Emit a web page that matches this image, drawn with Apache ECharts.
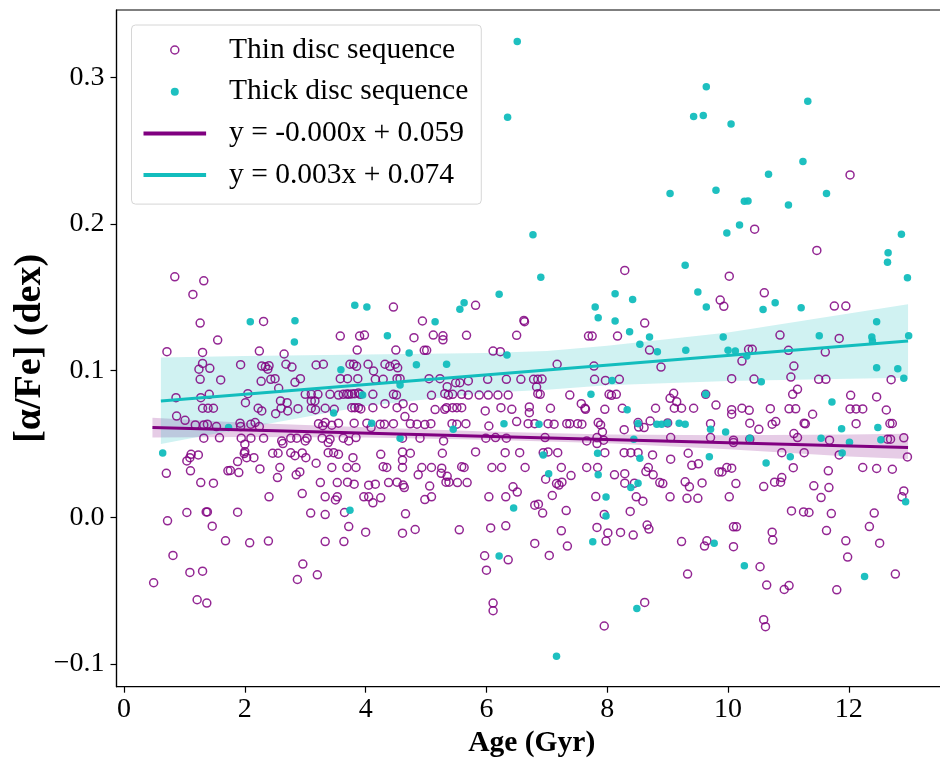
<!DOCTYPE html>
<html>
<head>
<meta charset="utf-8">
<script src="https://cdn.jsdelivr.net/npm/echarts@6/dist/echarts.min.js"></script>
<style>
html,body{margin:0;padding:0;background:#fff;overflow:hidden;}
#chart{width:952px;height:758px;}
</style>
</head>
<body>
<div id="chart"></div>
<script>
// ---- data ----
const xTicks = [0, 2, 4, 6, 8, 10, 12];
const yTicks = [-0.1, 0.0, 0.1, 0.2, 0.3];

const seriesNames = ['Thin disc sequence', 'Thick disc sequence', 'y = -0.000x + 0.059', 'y = 0.003x + 0.074'];

const thinPoints = [
[12.02,0.2335],[10.44,0.1965],[11.47,0.182],[10.6,0.1531],[11.76,0.1441],[11.95,0.1441],[10.86,0.1243],[11.84,0.122],[10.34,0.1146],[10.4,0.1146],[11.0,0.1139],[11.61,0.1127],[11.09,0.1032],[10.43,0.0943],[11.04,0.0957],[11.5,0.0941],[11.62,0.0941],[12.7,0.0939],[11.15,0.0873],[11.07,0.0839],[12.03,0.0832],[12.46,0.0821],[10.35,0.073],[10.7,0.0741],[11.01,0.074],[11.12,0.074],[12.02,0.0739],[12.12,0.0739],[12.23,0.0739],[12.62,0.0732],[11.4,0.0703],[10.36,0.0642],[10.73,0.0635],[10.79,0.0653],[11.26,0.0642],[11.28,0.0638],[12.12,0.0639],[12.68,0.064],[12.72,0.064],[10.51,0.06],[11.09,0.0571],[11.15,0.0544],[11.68,0.0526],[12.64,0.0533],[12.69,0.0533],[12.91,0.0542],[10.36,0.0533],[10.89,0.0441],[11.26,0.0441],[11.84,0.0426],[12.97,0.0412],[11.08,0.0339],[12.23,0.034],[12.46,0.0333],[12.72,0.0328],[11.66,0.0317],[10.89,0.0271],[10.59,0.021],[10.77,0.024],[10.87,0.024],[11.42,0.0215],[11.67,0.0203],[11.54,0.0135],[12.91,0.018],[12.88,0.014],[11.05,0.0044],[11.25,0.0037],[11.34,0.0033],[11.71,0.0026],[12.42,0.0029],[10.73,-0.0101],[10.74,-0.0155],[11.63,-0.009],[12.34,-0.0063],[11.95,-0.016],[12.51,-0.0176],[11.98,-0.0271],[10.53,-0.0337],[12.77,-0.0387],[10.64,-0.0462],[10.93,-0.0492],[11.01,-0.0465],[11.8,-0.0494],[10.59,-0.0698],[10.62,-0.0746],
[6.98,0.026],[7.16,0.023],[7.2,0.022],[7.25,0.024],[7.4,0.0285],[8.12,0.029],[8.29,0.0298],[8.64,0.0312],[8.76,0.029],[8.29,0.0233],[8.45,0.0233],[8.87,0.0237],[8.92,0.023],[9.29,0.0242],[9.36,0.0208],[9.57,0.0235],[10.13,0.023],[9.85,0.031],[9.9,0.031],[7.09,0.0149],[7.81,0.0142],[8.48,0.014],[8.59,0.011],[9.04,0.014],[9.32,0.013],[9.5,0.013],[10.02,0.014],[6.86,0.009],[6.8,0.0083],[6.93,0.0029],[7.32,0.0046],[7.95,0.002],[8.38,0.004],[7.24,-0.0092],[7.83,-0.0069],[8.01,-0.0106],[8.22,-0.0103],[8.43,-0.0121],[8.66,-0.0053],[8.69,-0.008],[10.09,-0.0065],[10.14,-0.0065],[7.98,-0.0162],[6.8,-0.0178],[7.34,-0.0196],[9.23,-0.0165],[9.65,-0.016],[9.61,-0.0196],[10.09,-0.02],[7.04,-0.026],[9.33,-0.0387],[8.62,-0.058],[7.95,-0.0741],
[3.53,0.0237],[3.7,0.024],[3.81,0.0226],[4.05,0.0219],[4.16,0.0226],[4.38,0.0237],[4.52,0.024],[4.62,0.022],[4.64,0.0203],[4.87,0.029],[5.06,0.0213],[5.33,0.024],[5.38,0.024],[5.52,0.0237],[5.68,0.0237],[5.25,0.03],[5.35,0.028],[3.33,0.014],[3.5,0.0119],[3.53,0.014],[3.97,0.014],[4.05,0.014],[4.12,0.0099],[4.25,0.0133],[4.98,0.0121],[5.09,0.014],[6.04,0.014],[6.32,0.014],[6.44,0.0208],[6.51,0.0172],[3.33,0.0019],[3.65,0.0033],[4.66,0.0024],[3.72,-0.0063],[4.0,-0.0101],[4.61,-0.0108],[4.82,-0.0083],[5.55,-0.0085],[6.07,-0.0072],[6.32,-0.0058],[3.33,-0.0165],[3.64,-0.0165],[5.97,-0.0262],[6.36,-0.029],[6.0,-0.036],[6.11,-0.0585],[6.11,-0.0637],
[0.7,0.030],[1.1,0.0317],[1.27,0.0237],[1.48,0.0233],[1.72,0.0317],[1.9,0.0305],[2.54,0.0271],[2.85,0.029],[2.91,0.031],[3.25,0.0237],[2.4,0.014],[2.95,0.0162],[1.04,0.0033],[1.36,0.0037],[1.38,0.0037],[1.88,0.0035],[0.72,-0.0024],[1.46,-0.006],[3.09,0.0029],[1.68,-0.016],[2.08,-0.0174],[2.39,-0.0162],[0.81,-0.026],[1.09,-0.0376],[1.3,-0.0367],[0.49,-0.0446],[2.96,-0.0319],[2.87,-0.0424],[3.2,-0.0392],[1.21,-0.0562],[1.37,-0.0585],
[0.84,0.164],[1.32,0.1613],[1.14,0.152],[1.26,0.1325],[2.31,0.1336],[1.55,0.1209],[0.71,0.113],[1.3,0.1125],[2.24,0.1134],[2.65,0.1114],[1.3,0.105],[1.24,0.101],[1.42,0.1016],[1.93,0.1041],[2.28,0.1032],[2.34,0.1027],[2.4,0.1034],[2.38,0.101],[2.68,0.1044],[2.78,0.1025],[3.18,0.1039],[3.3,0.1044],[1.26,0.0941],[1.6,0.0937],[2.27,0.0928],[2.43,0.0941],[2.5,0.0946],[2.83,0.0921],[2.92,0.0946],[2.05,0.0843],[2.01,0.0782],[2.56,0.088],[3.0,0.0839],[3.1,0.0839],[3.21,0.0839],[0.86,0.0816],[1.27,0.0816],[1.41,0.0839],[2.59,0.0794],[2.7,0.0782],[3.1,0.0794],[3.16,0.0794],[1.3,0.0744],[1.39,0.0744],[1.48,0.0744],[2.22,0.0744],[2.28,0.0726],[2.51,0.0707],[2.6,0.0744],[2.71,0.0726],[2.88,0.0741],[3.1,0.0744],[3.17,0.0734],[0.87,0.0691],[1.01,0.0662],[1.18,0.063],[1.32,0.063],[1.38,0.0635],[1.53,0.0619],[1.92,0.0642],[1.93,0.0619],[2.1,0.0635],[2.17,0.0646],[2.24,0.0619],[3.22,0.0639],[3.29,0.0625],[1.32,0.054],[1.58,0.0542],[1.94,0.054],[2.1,0.054],[2.31,0.054],[2.61,0.0521],[2.63,0.0503],[2.76,0.054],[2.86,0.054],[3.0,0.0521],[3.03,0.054],[3.28,0.054],[1.11,0.043],[1.23,0.0426],[1.04,0.0385],[1.09,0.0407],[2.0,0.0499],[2.0,0.0448],[1.99,0.0435],[2.03,0.0407],[2.15,0.0407],[2.46,0.0437],[2.55,0.0437],[2.76,0.044],[2.83,0.042],[2.95,0.0439],[3.01,0.0407],[3.18,0.0369],[1.88,0.038],[1.76,0.032],[2.25,0.033],[2.58,0.034],
[4.46,0.1434],[5.82,0.1446],[4.94,0.1339],[6.62,0.1343],[6.63,0.1334],[3.58,0.1236],[3.9,0.1236],[3.98,0.1243],[4.8,0.1225],[5.12,0.1243],[5.28,0.1238],[5.28,0.1211],[5.67,0.1241],[6.5,0.1241],[3.86,0.1141],[4.5,0.1141],[4.97,0.1139],[5.01,0.1139],[6.11,0.1134],[6.23,0.113],[3.74,0.1044],[3.8,0.1044],[3.85,0.103],[4.04,0.1044],[4.13,0.0998],[4.32,0.1044],[4.4,0.103],[4.49,0.1044],[4.53,0.102],[3.58,0.0946],[3.7,0.0946],[3.87,0.0946],[4.16,0.0941],[4.29,0.0941],[4.52,0.0946],[4.57,0.0946],[5.05,0.0946],[5.23,0.0946],[5.49,0.0918],[5.56,0.0918],[5.7,0.093],[5.35,0.0891],[6.02,0.0941],[6.33,0.0941],[6.57,0.0941],[6.78,0.0941],[3.41,0.0839],[3.55,0.0834],[3.63,0.0839],[3.69,0.0842],[3.72,0.0839],[3.77,0.0842],[3.82,0.0843],[3.88,0.0848],[3.91,0.0839],[4.12,0.0839],[4.46,0.0839],[4.51,0.0834],[5.09,0.0832],[5.31,0.0843],[5.37,0.0834],[5.44,0.0839],[5.59,0.0839],[5.7,0.0834],[5.88,0.0834],[6.03,0.0834],[6.19,0.0834],[6.36,0.0834],[3.33,0.0744],[3.48,0.0737],[3.77,0.0748],[3.82,0.0748],[3.88,0.0748],[3.92,0.0739],[4.12,0.0748],[4.32,0.0775],[4.52,0.0748],[4.62,0.0775],[4.79,0.0748],[5.15,0.0735],[5.31,0.0737],[5.34,0.0748],[5.44,0.0748],[5.51,0.0748],[5.59,0.0748],[5.98,0.0726],[6.24,0.0748],[6.42,0.0737],[6.71,0.0753],[6.71,0.0714],[3.33,0.0646],[3.44,0.0628],[3.55,0.0642],[3.81,0.0642],[4.02,0.0642],[4.09,0.0612],[4.24,0.0635],[4.31,0.0635],[4.46,0.0639],[4.65,0.0687],[4.74,0.0638],[4.85,0.0635],[4.98,0.0633],[5.08,0.0639],[5.43,0.0639],[5.51,0.0635],[5.66,0.0639],[6.04,0.0623],[6.5,0.0653],[6.69,0.0639],[6.8,0.0639],[3.41,0.0533],[3.38,0.051],[3.63,0.054],[3.72,0.0521],[3.84,0.0544],[4.61,0.054],[4.9,0.054],[5.29,0.0521],[5.99,0.054],[6.15,0.0544],[6.33,0.054],[3.38,0.0441],[3.47,0.0441],[3.55,0.043],[3.79,0.0407],[4.25,0.043],[4.61,0.0446],[4.74,0.0437],[4.61,0.039],[5.27,0.0437],[5.82,0.0446],[6.31,0.0441],[6.55,0.0441],[3.44,0.034],[3.69,0.034],[3.84,0.034],[4.29,0.0345],[4.35,0.034],[4.61,0.034],[4.93,0.034],[5.09,0.034],[5.26,0.0335],[5.59,0.0345],[5.63,0.034],[6.09,0.034],[6.25,0.034],[6.64,0.034],
[8.29,0.1684],[10.02,0.1645],[9.87,0.1482],[9.93,0.1439],[8.62,0.1325],[7.69,0.1236],[7.75,0.1236],[8.17,0.1236],[8.7,0.1141],[10.23,0.1066],[7.17,0.1044],[7.78,0.1032],[8.89,0.1025],[6.85,0.0941],[6.92,0.0943],[6.83,0.0889],[6.85,0.0843],[6.89,0.0839],[7.79,0.0941],[7.97,0.0934],[8.2,0.0941],[10.06,0.0946],[7.38,0.0834],[8.03,0.0839],[8.07,0.0832],[8.15,0.0839],[9.1,0.0846],[9.04,0.0812],[9.15,0.0789],[9.63,0.0839],[7.57,0.0775],[7.63,0.0744],[7.64,0.0737],[7.06,0.0744],[7.96,0.0737],[8.25,0.0744],[8.8,0.0744],[9.11,0.0744],[9.23,0.0744],[9.43,0.0744],[9.8,0.0766],[10.06,0.0734],[10.06,0.0703],[10.23,0.0744],[7.02,0.0639],[7.12,0.0635],[7.33,0.0639],[7.38,0.0639],[7.51,0.0639],[7.58,0.0635],[7.85,0.0646],[7.89,0.063],[7.92,0.0582],[8.28,0.0598],[8.51,0.0646],[8.52,0.0616],[8.61,0.0612],[8.71,0.0657],[9.0,0.0644],[9.71,0.0639],[6.97,0.0544],[7.66,0.0521],[7.83,0.0544],[7.83,0.0503],[7.94,0.0526],[9.05,0.0544],[9.71,0.0544],[10.09,0.0526],[10.09,0.051],[6.94,0.0441],[7.02,0.0446],[7.18,0.0441],[7.96,0.0441],[8.28,0.0441],[8.39,0.0441],[8.51,0.0441],[8.75,0.0426],[9.05,0.0397],[9.34,0.0437],[7.24,0.034],[7.66,0.034],[7.84,0.034],[8.68,0.034],[9.4,0.0355],[9.51,0.0365],[9.98,0.034],[10.06,0.0335]
];

const thickPoints = [
[6.51,0.3246],[6.35,0.2728],[6.77,0.1927],[9.64,0.2937],[9.43,0.2733],[9.59,0.274],[10.05,0.2683],[9.04,0.2208],[9.8,0.2231],[10.27,0.2156],[10.19,0.1993],[9.98,0.194],[11.32,0.2837],[11.24,0.2426],[10.67,0.234],[11.63,0.2208],[10.33,0.2158],[11.0,0.213],[12.87,0.1931],[12.65,0.1804],[12.64,0.174],[12.97,0.1634],[10.78,0.1463],[10.58,0.1418],[11.21,0.1429],[12.46,0.1334],[11.51,0.1238],[12.38,0.123],[12.39,0.1202],[12.99,0.1238],[10.31,0.11],[12.46,0.102],[12.81,0.1014],[10.55,0.0925],[12.91,0.0948],[11.72,0.0787],[11.88,0.0605],[12.48,0.0612],[11.54,0.054],[12.01,0.0512],[12.53,0.053],[10.36,0.054],[11.03,0.0414],[11.89,0.0439],[10.63,0.0371],[12.94,0.0106],[10.27,-0.033],[12.26,-0.0403],
[7.03,0.0298],[7.85,0.029],[8.39,0.0203],[8.51,0.0233],[7.98,0.0138],[7.98,0.001],[7.76,-0.0167],[9.77,-0.0176],[8.49,-0.0621],[7.16,-0.0948],
[3.74,0.0049],[6.45,0.0063],[6.21,-0.0264],
[2.09,0.1334],[2.83,0.134],[2.82,0.1195],[1.73,0.0612],[0.64,0.0439],
[3.82,0.1446],[4.02,0.1434],[5.63,0.1463],[5.56,0.142],[6.21,0.1522],[5.15,0.1334],[4.36,0.1238],[4.72,0.112],[6.34,0.1107],[3.59,0.1007],[4.84,0.104],[5.34,0.1044],[4.57,0.0903],[3.95,0.0834],[3.47,0.0712],[4.1,0.0642],[5.45,0.06],[6.29,0.0639],[4.57,0.054],
[6.9,0.1638],[9.29,0.172],[8.13,0.1525],[8.42,0.1486],[9.5,0.1536],[9.64,0.1434],[7.8,0.1434],[7.85,0.1361],[8.13,0.1339],[8.37,0.1266],[8.54,0.118],[8.7,0.123],[8.83,0.113],[9.3,0.1139],[9.92,0.123],[10.0,0.1139],[10.12,0.1134],[8.08,0.0934],[7.73,0.0839],[9.63,0.0839],[8.33,0.0734],[6.87,0.0635],[8.51,0.064],[8.82,0.0635],[8.9,0.0635],[9.0,0.0644],[9.19,0.0642],[9.29,0.0635],[9.71,0.06],[9.96,0.0582],[8.44,0.0533],[6.94,0.0426],[7.84,0.0437],[9.69,0.0414],[8.54,0.0403]
];

// regression lines (end points)
const thinFit = [[0.47, 0.0612], [12.98, 0.0476]];
const thickFit = [[0.61, 0.0794], [12.98, 0.1202]];

// confidence bands
const thinBandX    = [0.47, 2, 4, 6, 8, 10, 12, 12.98];
const thinBandLow  = [0.0544, 0.0548, 0.0545, 0.0530, 0.0505, 0.0465, 0.0415, 0.0398];
const thinBandHigh = [0.0680, 0.0645, 0.0615, 0.0585, 0.0565, 0.0560, 0.0565, 0.0570];

const thickBandX    = [0.61, 2, 4, 6, 7, 8, 10, 12, 12.98];
const thickBandLow  = [0.050, 0.061, 0.076, 0.085, 0.087, 0.090, 0.093, 0.0945, 0.0952];
const thickBandHigh = [0.109, 0.110, 0.111, 0.112, 0.1135, 0.117, 0.126, 0.139, 0.1454];

// ---- styles ----
const PURPLE = '#800080';
const CYAN = '#12bdbd';
const FONT = '"Liberation Serif", "Times New Roman", serif';

function bandSeries(bx, lo, hi, fill) {
  return {
    type: 'custom',
    silent: true,
    z: 1,
    data: [[bx[0], lo[0]]],
    renderItem: function (params, api) {
      const pts = [];
      for (let i = 0; i < bx.length; i++) pts.push(api.coord([bx[i], hi[i]]));
      for (let i = bx.length - 1; i >= 0; i--) pts.push(api.coord([bx[i], lo[i]]));
      return { type: 'polygon', shape: { points: pts }, style: { fill: fill, stroke: 'none' } };
    }
  };
}

const chart = echarts.init(document.getElementById('chart'), null, { renderer: 'canvas' });

const option = {
  backgroundColor: '#fff',
  animation: false,
  grid: {
    left: 116.5, top: 10, width: 830.5, height: 676.7,
    outerBoundsMode: 'none',
    show: true, borderColor: '#000', borderWidth: 1.2, backgroundColor: 'transparent'
  },
  legend: {
    orient: 'vertical',
    left: 131.5, top: 25,
    itemWidth: 62.6, itemHeight: 8,
    itemGap: 7.7,
    padding: [8, 13, 12, 10],
    backgroundColor: 'rgba(255,255,255,0.85)',
    borderColor: '#d6d6d6', borderWidth: 1, borderRadius: 4,
    textStyle: { fontFamily: FONT, fontSize: 29.5, color: '#000', lineHeight: 34, padding: [0, 0, 0, 18] },
    data: [
      { name: seriesNames[0], icon: 'circle', itemStyle: { color: 'rgba(0,0,0,0)', borderColor: PURPLE, borderWidth: 1.5 } },
      { name: seriesNames[1], icon: 'circle', itemStyle: { color: CYAN, borderWidth: 0 } },
      { name: seriesNames[2], itemStyle: { color: 'rgba(0,0,0,0)', borderColor: 'rgba(0,0,0,0)', opacity: 0 }, lineStyle: { width: 4, color: PURPLE } },
      { name: seriesNames[3], itemStyle: { color: 'rgba(0,0,0,0)', borderColor: 'rgba(0,0,0,0)', opacity: 0 }, lineStyle: { width: 4, color: CYAN } }
    ]
  },
  xAxis: {
    type: 'value',
    min: -0.125, max: 13.625,
    name: 'Age (Gyr)',
    nameLocation: 'middle',
    nameGap: 42,
    nameMoveOverlap: false,
    nameTextStyle: { fontFamily: FONT, fontSize: 29.5, fontWeight: 'bold', color: '#000' },
    axisLine: { show: true, onZero: false, lineStyle: { color: '#000', width: 1.2 } },
    axisTick: { show: true, inside: false, length: 6, customValues: xTicks, lineStyle: { color: '#000', width: 1.2 } },
    axisLabel: { customValues: xTicks, fontFamily: FONT, fontSize: 28, color: '#000', margin: 9,
      formatter: v => String(Math.round(v)) },
    splitLine: { show: false }
  },
  yAxis: {
    type: 'value',
    min: -0.1155, max: 0.346,
    name: '[\u03b1/Fe] (dex)',
    nameLocation: 'middle',
    nameGap: 67,
    nameMoveOverlap: false,
    nameTextStyle: { fontFamily: FONT, fontSize: 38, fontWeight: 'bold', color: '#000' },
    axisLine: { show: true, onZero: false, lineStyle: { color: '#000', width: 1.2 } },
    axisTick: { show: true, inside: false, length: 6, customValues: yTicks, lineStyle: { color: '#000', width: 1.2 } },
    axisLabel: { customValues: yTicks, fontFamily: FONT, fontSize: 28, color: '#000', margin: 12,
      formatter: v => { const r = Math.round(v * 10) / 10; return r < 0 ? '\u2212' + Math.abs(r).toFixed(1) : r.toFixed(1); } },
    splitLine: { show: false }
  },
  series: [
    bandSeries(thinBandX, thinBandLow, thinBandHigh, 'rgba(128,0,128,0.2)'),
    bandSeries(thickBandX, thickBandLow, thickBandHigh, 'rgba(18,189,189,0.2)'),
    {
      name: seriesNames[0],
      type: 'scatter',
      z: 2,
      symbol: 'circle',
      symbolSize: 8,
      data: thinPoints,
      itemStyle: { color: 'rgba(0,0,0,0)', borderColor: PURPLE, borderWidth: 1.5, opacity: 0.85 }
    },
    {
      name: seriesNames[1],
      type: 'scatter',
      z: 3,
      symbol: 'circle',
      symbolSize: 7.5,
      data: thickPoints,
      itemStyle: { color: CYAN, opacity: 0.95 }
    },
    {
      name: seriesNames[2],
      type: 'line',
      z: 4,
      showSymbol: false,
      symbol: 'none',
      data: thinFit,
      lineStyle: { color: PURPLE, width: 3 },
      itemStyle: { color: PURPLE }
    },
    {
      name: seriesNames[3],
      type: 'line',
      z: 4,
      showSymbol: false,
      symbol: 'none',
      data: thickFit,
      lineStyle: { color: CYAN, width: 3 },
      itemStyle: { color: CYAN }
    }
  ]
};

chart.setOption(option);
</script>
</body>
</html>
